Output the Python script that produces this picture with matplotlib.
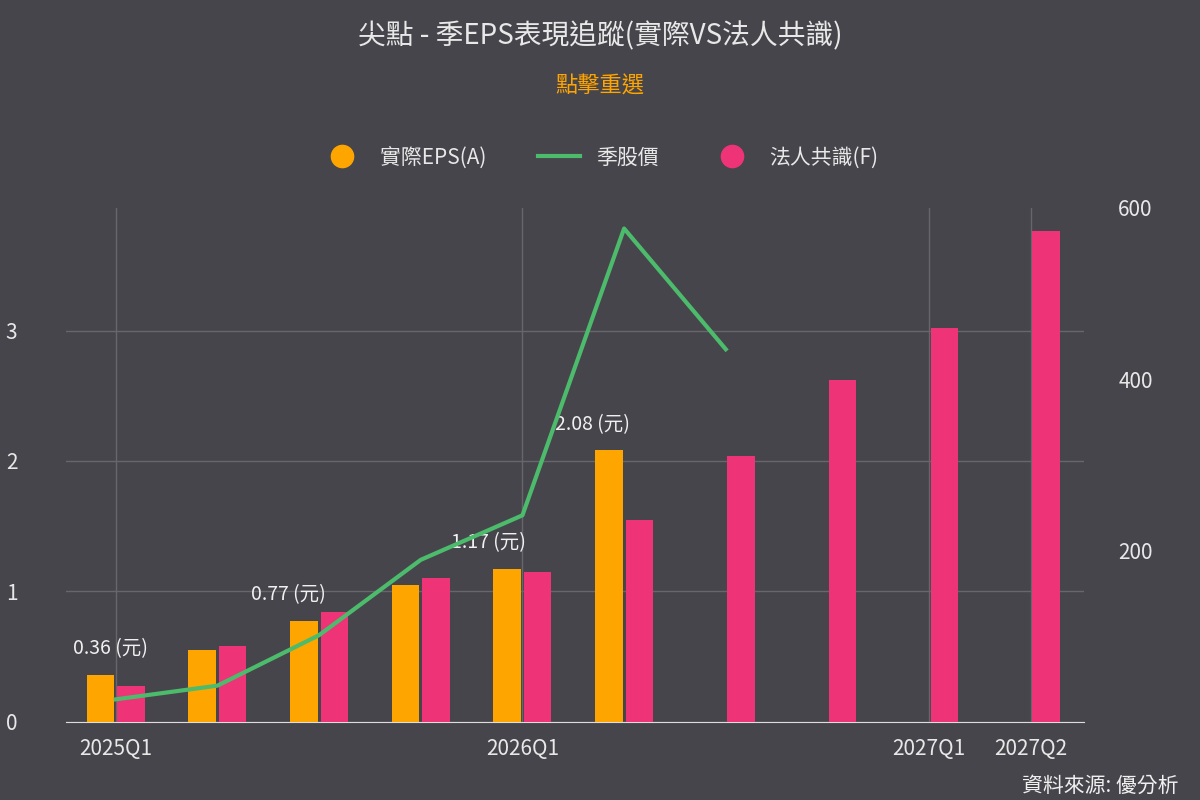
import matplotlib
matplotlib.use("Agg")
import matplotlib.pyplot as plt
import numpy as np
from matplotlib.lines import Line2D

plt.rcParams['font.family'] = ['Noto Sans CJK TC', 'DejaVu Sans']

quarters = ['2025Q1','2025Q2','2025Q3','2025Q4','2026Q1','2026Q2','2026Q3','2026Q4','2027Q1','2027Q2']
tick_show = ['2025Q1','2026Q1','2027Q1','2027Q2']
actual = [0.36, 0.55, 0.77, 1.05, 1.17, 2.08]
forecast = [0.27, 0.58, 0.84, 1.10, 1.15, 1.55, 2.04, 2.62, 3.02, 3.76]
price = [26, 42, 101, 189, 241, 576, 435]
labels_idx = [0, 2, 4, 5]
label_shift = [-0.05, -0.3, -0.33, -0.31]

bg = '#46454b'
fig = plt.figure(figsize=(12, 8), dpi=100, facecolor=bg)
ax = fig.add_axes([0.055, 0.098, 0.848, 0.642], facecolor=bg)
ax2 = ax.twinx()

x = np.arange(len(quarters))
w = 0.27
ax.bar(x[:len(actual)] - 0.15, actual, w, color='#ffa500', zorder=3)
ax.bar(x + 0.15, forecast, w, color='#ee3377', zorder=3)
for i, dx in zip(labels_idx, label_shift):
    ax.text(x[i] + dx, actual[i] + 0.12, f'{actual[i]:.2f} (元)', color='#f0f0f0',
            ha='center', va='bottom', fontsize=14, zorder=5)
ax2.plot(x[:len(price)], price, color='#4cbb6c', lw=3, zorder=4)

ax.set_xlim(-0.49, 9.52)
ax.set_ylim(0, 3.94)
ax2.set_ylim(0, 600)
ax.set_yticks([0, 1, 2, 3])
ax2.set_yticks([200, 400, 600])
ax.set_xticks([quarters.index(q) for q in tick_show])
ax.set_xticklabels(tick_show)
ax.grid(True, color='#66666b', lw=1, zorder=0)
ax.set_axisbelow(True)
ax2.grid(False)
for a in (ax, ax2):
    for s in a.spines.values():
        s.set_visible(False)
    a.tick_params(colors='#e8e8e8', labelsize=15, length=0)
ax.spines['bottom'].set_visible(True)
ax.spines['bottom'].set_color('#dddddd')
ax.tick_params(axis='x', pad=12)
ax.tick_params(axis='y', pad=25)
ax2.tick_params(axis='y', pad=25)
for t in ax.get_yticklabels():
    t.set_ha('left')
    t.set_x(-0.025)

fig.text(0.5, 0.955, '尖點 - 季EPS表現追蹤(實際VS法人共識)', ha='center', va='center', color='#e8e8e8', fontsize=20)
fig.text(0.5, 0.893, '點擊重選', ha='center', va='center', color='#ffa500', fontsize=16)

handles = [Line2D([], [], marker='o', ls='none', ms=16, color='#ffa500'),
           Line2D([], [], color='#4cbb6c', lw=3),
           Line2D([], [], marker='o', ls='none', ms=16, color='#ee3377')]
fig.legend(handles, ['實際EPS(A)', '季股價', '法人共識(F)'], loc='center', bbox_to_anchor=(0.5, 0.803),
           ncol=3, frameon=False, labelcolor='#e8e8e8', fontsize=15, columnspacing=2.5, handlelength=2)
fig.text(0.982, 0.018, '資料來源: 優分析', ha='right', va='center', color='#f0f0f0', fontsize=15)
fig.savefig('out.png', facecolor=bg)
